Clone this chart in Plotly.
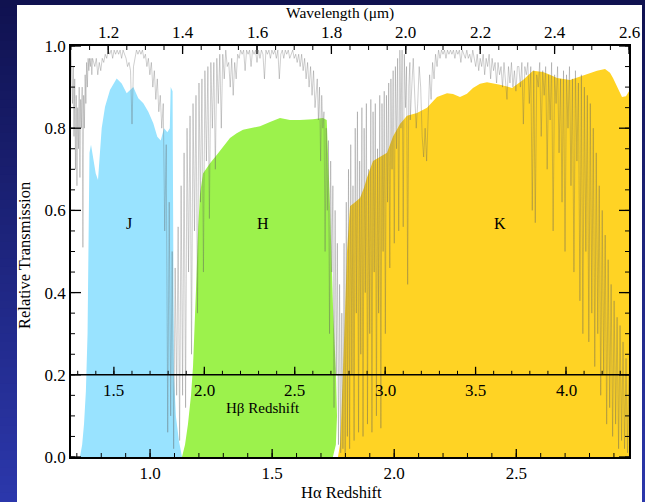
import numpy as np
import plotly.graph_objects as go

# ---------------------------------------------------------------- data
HA_REST = 0.65628   # H-alpha rest wavelength, micron
HB_REST = 0.48613   # H-beta rest wavelength, micron
wl_range = [1.1, 2.6]

# Filter transmission curves (wavelength in micron, relative transmission)
j_wl = [1.124, 1.130, 1.135, 1.140, 1.1445, 1.147, 1.1497, 1.1538, 1.160, 1.1665,
        1.1726, 1.1825, 1.1915, 1.2048, 1.2228, 1.2362, 1.2497, 1.2675, 1.2809, 1.2944,
        1.3078, 1.3212, 1.3320, 1.3412, 1.3500, 1.3590, 1.3656, 1.3680, 1.3730, 1.3745,
        1.3766, 1.3820, 1.3900, 1.3984]
j_tr = [0.0, 0.03, 0.08, 0.16, 0.30, 0.55, 0.74, 0.76, 0.73, 0.69,
        0.674, 0.80, 0.852, 0.893, 0.921, 0.909, 0.885, 0.90, 0.873, 0.861,
        0.84, 0.812, 0.779, 0.77, 0.80, 0.79, 0.80, 0.90, 0.89, 0.50,
        0.20, 0.10, 0.04, 0.0]

h_wl = [1.3984, 1.4065, 1.4145, 1.4226, 1.4280, 1.4333, 1.4374, 1.4420, 1.4468, 1.4548,
        1.4737, 1.4917, 1.5086, 1.5274, 1.5454, 1.5624, 1.5812, 1.6081, 1.6349, 1.6618,
        1.6887, 1.7156, 1.7505, 1.7774, 1.7874, 1.7909, 1.7962, 1.8043, 1.8124, 1.8151,
        1.8120, 1.8040]
h_tr = [0.0, 0.03, 0.08, 0.15, 0.22, 0.33, 0.44, 0.56, 0.64, 0.69,
        0.715, 0.735, 0.755, 0.776, 0.788, 0.796, 0.80, 0.805, 0.815, 0.825,
        0.82, 0.82, 0.822, 0.825, 0.82, 0.75, 0.61, 0.365, 0.20, 0.10,
        0.03, 0.0]

k_wl = [1.8177, 1.8231, 1.8258, 1.8312, 1.8366, 1.8419, 1.8473, 1.8500, 1.8634, 1.8769,
        1.8876, 1.8957, 1.9118, 1.9306, 1.9495, 1.9656, 1.9844, 2.0032, 2.0301, 2.0570,
        2.0839, 2.1108, 2.1269, 2.1457, 2.1645, 2.1806, 2.1995, 2.2183, 2.2532, 2.2855,
        2.3151, 2.3419, 2.3688, 2.3876, 2.4065, 2.4414, 2.4763, 2.5140, 2.5355, 2.5489,
        2.5570, 2.5704, 2.5812, 2.5919, 2.6000, 2.6000]
k_tr = [0.0, 0.03, 0.08, 0.20, 0.35, 0.50, 0.58, 0.61, 0.62, 0.63,
        0.655, 0.68, 0.72, 0.73, 0.74, 0.78, 0.81, 0.83, 0.837, 0.85,
        0.876, 0.885, 0.883, 0.876, 0.884, 0.898, 0.908, 0.912, 0.906, 0.898,
        0.917, 0.94, 0.937, 0.93, 0.922, 0.917, 0.928, 0.94, 0.944, 0.935,
        0.922, 0.895, 0.876, 0.878, 0.89, 0.0]

# Atmospheric transmission, stored as evenly sampled pieces:
# (first wavelength, sampling step, transmission samples)
atm_1 = (1.100, 0.002, [
    0.99, 0.93, 0.86, 0.95, 0.78, 0.92, 0.70, 0.88, 0.66, 0.85,
    0.75, 0.90, 0.68, 0.87, 0.80, 0.90, 0.51, 0.88, 0.80, 0.93,
    0.86, 0.96, 0.90, 0.97, 0.94, 0.97, 0.95, 0.97, 0.93, 0.97,
    0.96])
atm_2 = (1.164, 0.004, [
    0.95, 0.97, 0.93, 0.96, 0.94, 0.97, 0.96, 0.98, 0.97, 0.99,
    0.98, 0.99, 0.97, 0.99, 0.98, 0.99, 0.98, 0.99, 0.97, 0.99,
    0.98, 0.97, 0.95, 0.96, 0.94, 0.81, 0.95, 0.97, 0.99, 0.98,
    0.99, 0.98, 0.99, 0.97, 0.98, 0.95, 0.97, 0.93, 0.96, 0.90,
    0.94, 0.87, 0.92, 0.84])
atm_3 = (1.340, 0.004, [
    0.88, 0.80, 0.86, 0.55, 0.76, 0.06, 0.62, 0.10, 0.50, 0.02,
    0.46, 0.15, 0.56, 0.04, 0.66, 0.15, 0.74, 0.12, 0.80, 0.45,
    0.83, 0.25, 0.86, 0.55, 0.88, 0.35, 0.91, 0.62, 0.92, 0.45,
    0.94, 0.72, 0.95, 0.58, 0.96, 0.80, 0.96, 0.70, 0.97, 0.86,
    0.98, 0.80, 0.98, 0.92, 0.99, 0.95])
atm_4 = (1.524, 0.004, [
    0.96, 0.90, 0.97, 0.88, 0.96, 0.92, 0.98, 0.97, 0.99, 0.98,
    0.99, 0.94, 0.99, 0.98, 0.99, 0.95, 0.99, 0.98, 0.99, 0.96,
    0.99, 0.97, 0.99, 0.98, 0.92, 0.99, 0.98, 0.99, 0.97, 0.99,
    0.98, 0.99, 0.97, 0.99, 0.92, 0.98, 0.99, 0.97, 0.99, 0.98,
    0.99, 0.97, 0.98, 0.99, 0.97, 0.98, 0.96, 0.98, 0.95, 0.98,
    0.94, 0.97, 0.92, 0.96, 0.90, 0.95, 0.88, 0.94, 0.85, 0.92])
atm_5 = (1.762, 0.003, [
    0.92, 0.82, 0.90, 0.72, 0.88, 0.80, 0.84, 0.50, 0.80, 0.60,
    0.77, 0.30, 0.72, 0.45, 0.66, 0.12, 0.60, 0.20, 0.52, 0.03,
    0.42, 0.01, 0.35, 0.02, 0.52, 0.01, 0.62, 0.05, 0.70, 0.02,
    0.76, 0.20, 0.66, 0.04, 0.80, 0.35, 0.84, 0.06, 0.72, 0.25,
    0.85, 0.05, 0.80, 0.40, 0.86, 0.08, 0.70, 0.30, 0.87, 0.06,
    0.84, 0.45, 0.86, 0.10, 0.75, 0.35, 0.88, 0.07, 0.86, 0.50,
    0.89, 0.30, 0.88, 0.62, 0.91, 0.46, 0.92, 0.70, 0.94, 0.52,
    0.95, 0.75, 0.97, 0.55, 0.99, 0.80, 0.99, 0.56, 0.98, 0.85,
    0.95, 0.42, 0.90, 0.96])
atm_6 = (2.012, 0.004, [
    0.82, 0.90, 0.97, 0.88, 0.80, 0.86, 0.95, 0.90, 0.78, 0.73,
    0.80, 0.72, 0.84, 0.93, 0.87, 0.96, 0.92, 0.98, 0.95, 0.99,
    0.97, 0.99, 0.98, 0.99, 0.97, 0.99, 0.98, 0.99, 0.98, 0.99,
    0.97, 0.99, 0.98, 0.99, 0.96, 0.99, 0.98, 0.97, 0.99, 0.97,
    0.98, 0.96, 0.99, 0.97, 0.95, 0.98, 0.94, 0.97, 0.95, 0.98,
    0.93, 0.97, 0.95, 0.98, 0.92, 0.97, 0.94, 0.96, 0.91, 0.96,
    0.93, 0.95, 0.90, 0.96, 0.92, 0.87, 0.95, 0.91, 0.96, 0.90,
    0.94, 0.89, 0.95])
atm_7 = (2.304, 0.004, [
    0.95, 0.90, 0.96, 0.81, 0.95, 0.93, 0.96, 0.86, 0.95, 0.60,
    0.94, 0.57, 0.93, 0.90, 0.96, 0.78, 0.94, 0.88, 0.95, 0.70,
    0.93, 0.82, 0.96, 0.55, 0.93, 0.86, 0.95, 0.74, 0.92, 0.62,
    0.94, 0.50, 0.93, 0.80, 0.95, 0.66, 0.92, 0.45, 0.94, 0.72,
    0.91, 0.38, 0.93, 0.30, 0.90, 0.50, 0.88, 0.28, 0.86, 0.35,
    0.80, 0.22, 0.74, 0.30, 0.66, 0.15, 0.60, 0.20, 0.54, 0.08,
    0.48, 0.12, 0.42, 0.05, 0.38, 0.08, 0.34, 0.02, 0.32, 0.04,
    0.28, 0.02, 0.24, 0.01, 0.20])
atm_pieces = [atm_1, atm_2, atm_3, atm_4, atm_5, atm_6, atm_7]

# Axis ticks
wl_ticks = [1.2, 1.4, 1.6, 1.8, 2.0, 2.2, 2.4, 2.6]
wl_labels = ["1.2", "1.4", "1.6", "1.8", "2.0", "2.2", "2.4", "2.6"]
ha_ticks = [1.0, 1.5, 2.0, 2.5]
ha_labels = ["1.0", "1.5", "2.0", "2.5"]
hb_ticks = [1.5, 2.0, 2.5, 3.0, 3.5, 4.0]
hb_labels = ["1.5", "2.0", "2.5", "3.0", "3.5", "4.0"]
tr_ticks = [0.0, 0.2, 0.4, 0.6, 0.8, 1.0]
tr_labels = ["0.0", "0.2", "0.4", "0.6", "0.8", "1.0"]
hb_axis_level = 0.2
band_names = ["J", "H", "K"]
band_label_wl = [1.257, 1.616, 2.252]
band_label_tr = 0.567

# ---------------------------------------------------------------- helpers
W, H = 645, 502
ML, MR, MT, MB = 71, 16, 46, 45
PW, PH = W - ML - MR, H - MT - MB
MAJOR_LEN, MINOR_LEN = 8, 4


def px_x(px):
    return (px - ML) / PW


def px_y(py):
    return (H - MB - py) / PH


def redshift_to_wl(z_list, rest):
    return [rest * (1.0 + z) for z in z_list]


atm_wl = np.concatenate([start + step * np.arange(len(v)) for start, step, v in atm_pieces])
atm_tr = np.concatenate([np.asarray(v, dtype=float) for _, _, v in atm_pieces])

wl_minor = [round(1.1 + 0.05 * i, 2) for i in range(31)]
ha_minor = [round(0.6 + 0.1 * i, 1) for i in range(1, 24)]
hb_minor = [round(1.2 + 0.1 * i, 1) for i in range(1, 32)]
tr_minor = [round(0.05 * i, 2) for i in range(21)]

SERIF = "Liberation Serif, Times New Roman, serif"
TICK_FONT = dict(family=SERIF, size=17, color="black")
TITLE_FONT = dict(family=SERIF, size=16.5, color="black")
TOP_TITLE_FONT = dict(family=SERIF, size=15.5, color="black")
INNER_FONT = dict(family=SERIF, size=15, color="black")
BAND_FONT = dict(family=SERIF, size=16, color="black")

# ---------------------------------------------------------------- traces
fig = go.Figure()
for wl, tr, col in [(k_wl, k_tr, "#FFD324"), (h_wl, h_tr, "#9CF24C"), (j_wl, j_tr, "#99E3FF")]:
    fig.add_trace(go.Scatter(x=wl, y=tr, mode="lines", fill="toself", fillcolor=col,
                             line=dict(width=0, color=col), hoverinfo="skip"))

fig.add_trace(go.Scatter(x=atm_wl, y=atm_tr, mode="lines",
                         line=dict(color="rgba(95,95,95,0.5)", width=0.6),
                         hoverinfo="skip"))

# ---------------------------------------------------------------- background
shapes = []
top_rgb = np.array([16, 18, 80])
bot_rgb = np.array([44, 56, 172])
n_strips = 60
for i in range(n_strips):
    f = (i + 0.5) / n_strips
    c = (top_rgb + (bot_rgb - top_rgb) * f).astype(int)
    shapes.append(dict(type="rect", xref="paper", yref="paper", layer="below",
                       x0=px_x(-1), x1=px_x(W + 1),
                       y0=px_y(H * (i + 1) / n_strips + 1), y1=px_y(H * i / n_strips - 1),
                       fillcolor=f"rgb({c[0]},{c[1]},{c[2]})", line=dict(width=0)))
shapes.append(dict(type="rect", xref="paper", yref="paper", layer="below",
                   x0=px_x(17), x1=px_x(642), y0=px_y(H + 2), y1=px_y(5),
                   fillcolor="white", line=dict(width=0)))


# ---------------------------------------------------------------- tick marks
def x_ticks(values, level, direction, length, width):
    """Vertical tick marks at wavelength positions on a horizontal axis line."""
    out = []
    for v in values:
        out.append(dict(type="line", xref="x", yref="paper", layer="above",
                        x0=v, x1=v, y0=level, y1=level + direction * length / PH,
                        line=dict(color="black", width=width)))
    return out


def y_ticks(values, side, length, width):
    out = []
    x0 = 0.0 if side == "left" else 1.0
    d = 1 if side == "left" else -1
    for v in values:
        out.append(dict(type="line", xref="paper", yref="y", layer="above",
                        x0=x0, x1=x0 + d * length / PW, y0=v, y1=v,
                        line=dict(color="black", width=width)))
    return out


# bottom: H-alpha redshift
shapes += x_ticks(redshift_to_wl(ha_minor, HA_REST), 0.0, 1, MINOR_LEN, 1)
shapes += x_ticks(redshift_to_wl(ha_ticks, HA_REST), 0.0, 1, MAJOR_LEN, 1.3)
# top: wavelength
shapes += x_ticks(wl_minor, 1.0, -1, MINOR_LEN, 1)
shapes += x_ticks(wl_ticks, 1.0, -1, MAJOR_LEN, 1.3)
# inner axis: H-beta redshift
shapes.append(dict(type="line", xref="paper", yref="y", layer="above",
                   x0=0, x1=1, y0=hb_axis_level, y1=hb_axis_level,
                   line=dict(color="black", width=1.5)))
shapes += x_ticks(redshift_to_wl(hb_minor, HB_REST), hb_axis_level, 1, MINOR_LEN, 1)
shapes += x_ticks(redshift_to_wl(hb_ticks, HB_REST), hb_axis_level, 1, MAJOR_LEN, 1.3)
# left and right: transmission
for side in ("left", "right"):
    shapes += y_ticks(tr_minor, side, MINOR_LEN, 1)
    shapes += y_ticks(tr_ticks, side, MAJOR_LEN + 2, 1.3)

# ---------------------------------------------------------------- labels
annotations = [
    dict(text="Wavelength (μm)", x=px_x(340), y=px_y(13), xref="paper", yref="paper",
         showarrow=False, font=TOP_TITLE_FONT, xanchor="center", yanchor="middle"),
    dict(text="Relative Transmission", x=px_x(24), y=px_y(256), xref="paper", yref="paper",
         showarrow=False, font=TITLE_FONT, textangle=-90, xanchor="center", yanchor="middle"),
    dict(text="Hα Redshift", x=px_x(341), y=px_y(493), xref="paper", yref="paper",
         showarrow=False, font=TITLE_FONT, xanchor="center", yanchor="middle"),
    dict(text="Hβ Redshift", x=px_x(263), y=px_y(408), xref="paper", yref="paper",
         showarrow=False, font=INNER_FONT, xanchor="center", yanchor="middle"),
]
for v, t in zip(wl_ticks, wl_labels):
    annotations.append(dict(text=t, x=v, y=px_y(32), xref="x", yref="paper",
                            showarrow=False, font=TICK_FONT, xanchor="center", yanchor="middle"))
for v, t in zip(redshift_to_wl(hb_ticks, HB_REST), hb_labels):
    annotations.append(dict(text=t, x=v, y=px_y(390), xref="x", yref="paper",
                            showarrow=False, font=TICK_FONT, xanchor="center", yanchor="middle"))
for name, wl in zip(band_names, band_label_wl):
    annotations.append(dict(text=name, x=wl, y=band_label_tr, xref="x", yref="y",
                            showarrow=False, font=BAND_FONT, xanchor="center", yanchor="middle"))

axis_style = dict(showgrid=False, zeroline=False, showline=True, mirror=True,
                  linecolor="black", linewidth=1.5, ticks="", tickfont=TICK_FONT,
                  fixedrange=True, tickmode="array")

fig.update_layout(
    width=W, height=H, autosize=False,
    margin=dict(l=ML, r=MR, t=MT, b=MB, pad=0),
    paper_bgcolor="rgb(30,37,126)", plot_bgcolor="white",
    showlegend=False,
    xaxis=dict(range=wl_range, tickvals=redshift_to_wl(ha_ticks, HA_REST),
               ticktext=ha_labels, **axis_style),
    yaxis=dict(range=[0, 1], tickvals=tr_ticks, ticktext=tr_labels, **axis_style),
    shapes=shapes, annotations=annotations,
    font=TICK_FONT,
)

fig.write_html("out.html", config=dict(displayModeBar=False))
